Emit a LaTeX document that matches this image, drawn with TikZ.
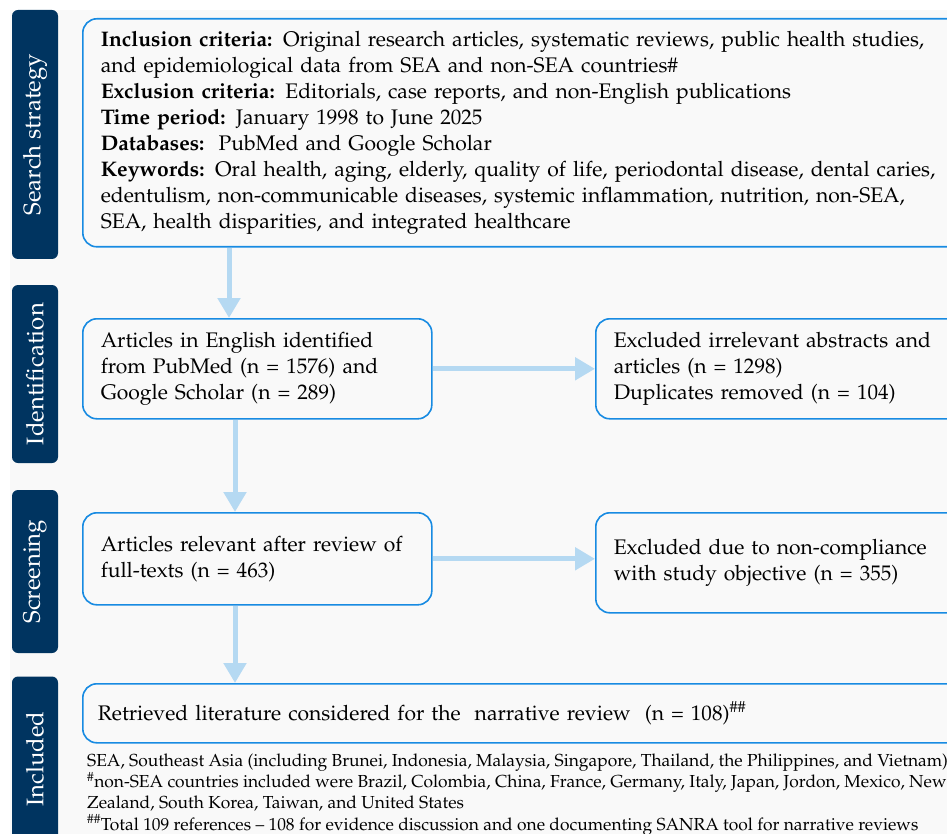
\documentclass[tikz,border=0pt]{standalone}
\usepackage[T1]{fontenc}
\usepackage{mathpazo}
\usetikzlibrary{arrows.meta}
\definecolor{navy}{RGB}{0,52,96}
\definecolor{boxblue}{RGB}{24,139,226}
\definecolor{arrblue}{RGB}{181,217,242}
\definecolor{bggray}{RGB}{249,249,249}
\begin{document}
\begin{tikzpicture}[x=1pt,y=-1pt,
  lane/.style={rotate=90, fill=navy, rounded corners=6pt, text=white,
    font=\fontsize{24}{28}\selectfont, minimum height=46pt, inner sep=0pt},
  stage/.style={draw=boxblue, line width=1.6pt, rounded corners=14pt, fill=bggray,
    anchor=north west, align=left, inner xsep=18pt, inner ysep=3pt,
    font=\fontsize{21.1}{26}\selectfont},
  flow/.style={draw=arrblue, line width=5pt, -{Triangle[width=22pt,length=20pt]}},
  notes/.style={anchor=north west, align=left, inner sep=0pt,
    font=\fontsize{17.4}{21.1}\selectfont}
  ]
\useasboundingbox (0,0) rectangle (947,834);
\clip (0,0) rectangle (947,834);
\fill[bggray] (10,10) rectangle (960,850);

\node[lane, minimum width=249pt] (l1) at (35,134.5) {Search strategy};
\node[lane, minimum width=178pt] (l2) at (35,374) {Identification};
\node[lane, minimum width=163pt] (l3) at (35,571.5) {Screening};
\node[lane, minimum width=165pt] (l4) at (35,759) {Included};

\node[stage, minimum height=228pt, text width=860pt] (sb) at (82,18)
{\textbf{Inclusion criteria:} Original research articles, systematic reviews, public health studies,\\
and epidemiological data from SEA and non-SEA countries\#\\
\textbf{Exclusion criteria:} Editorials, case reports, and non-English publications\\
\textbf{Time period:} January 1998 to June 2025\\
\textbf{Databases:}\ \ PubMed and Google Scholar\\
\textbf{Keywords:} Oral health, aging, elderly, quality of life, periodontal disease, dental caries,\\
edentulism, non-communicable diseases, systemic inflammation, nutrition, non-SEA,\\
SEA, health disparities, and integrated healthcare};

\node[stage, minimum height=100pt, text width=313pt] (id) at (82,318)
{Articles in English identified\\from PubMed (n = 1576) and\\Google Scholar (n = 289)};
\node[stage, minimum height=100pt, text width=360pt] (ex1) at (595,318)
{Excluded irrelevant abstracts and\\articles (n = 1298)\\Duplicates removed (n = 104)};
\node[stage, minimum height=92pt, text width=313pt] (sc) at (82,512)
{Articles relevant after review of\\full-texts (n = 463)};
\node[stage, minimum height=100pt, text width=360pt] (ex2) at (595,512)
{Excluded due to non-compliance\\with study objective (n = 355)};
\node[stage, minimum height=59pt, text width=870pt, inner xsep=15pt] (in) at (82,683)
{Retrieved literature considered for the\ \ narrative review\ \ (n = 108)\textsuperscript{\#\#}};

\node[notes] (fn) at (87,754)
{SEA, Southeast Asia (including Brunei, Indonesia, Malaysia, Singapore, Thailand, the Philippines, and Vietnam)\\
\textsuperscript{\#}non-SEA countries included were Brazil, Colombia, China, France, Germany, Italy, Japan, Jordon, Mexico, New\\
Zealand, South Korea, Taiwan, and United States\\
\textsuperscript{\#\#}Total 109 references -- 108 for evidence discussion and one documenting SANRA tool for narrative reviews};

\draw[flow] ([xshift=147pt]sb.south west) -- ([xshift=147pt]id.north west);
\draw[flow] ([xshift=153pt]id.south west) -- ([xshift=153pt]sc.north west);
\draw[flow] ([xshift=153pt]sc.south west) -- ([xshift=153pt]in.north west);
\draw[flow] (id.east) -- (ex1.west);
\draw[flow] (sc.east) -- (sc.east -| ex2.west);
\end{tikzpicture}
\end{document}
